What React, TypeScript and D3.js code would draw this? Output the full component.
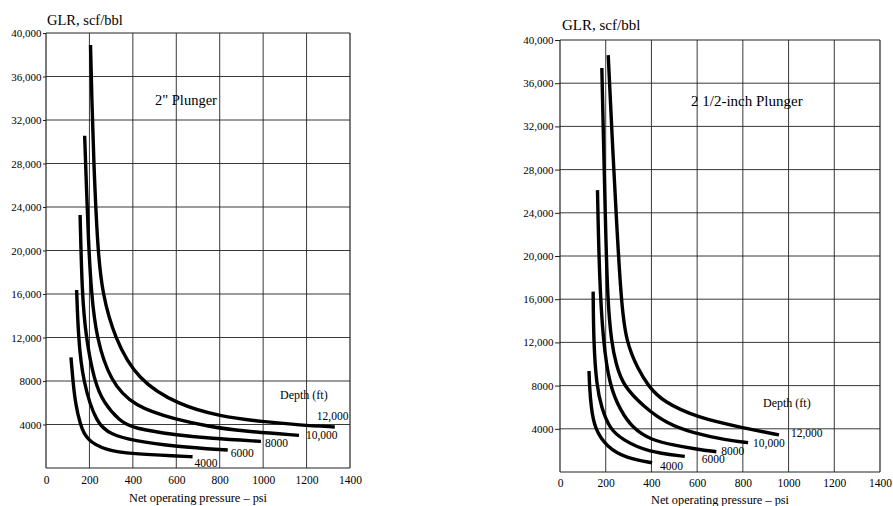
import React, { useRef, useEffect } from 'react';
import * as d3 from 'd3';

// axis ticks
const psiTicks = [0, 200, 400, 600, 800, 1000, 1200, 1400];
const glrTicks = [4000, 8000, 12000, 16000, 20000, 24000, 28000, 32000, 36000, 40000];
const depthNames = ['4000', '6000', '8000', '10,000', '12,000'];

// 2" plunger, [psi, GLR]
const two4000: [number, number][] = [[115, 10180], [124, 8000], [135, 6000], [157, 4000], [187, 2570], [272, 1650], [400, 1290], [600, 1100], [675, 1040]];
const two6000: [number, number][] = [[141, 16370], [149, 12000], [169, 8000], [233, 4000], [300, 3100], [400, 2510], [600, 1960], [837, 1650]];
const two8000: [number, number][] = [[157, 23260], [166, 16000], [184, 12000], [222, 8000], [265, 6000], [340, 4300], [400, 3650], [600, 3030], [755, 2730], [990, 2450]];
const two10000: [number, number][] = [[178, 30550], [186, 26000], [195, 21000], [209, 16000], [232, 12000], [295, 8000], [405, 5640], [600, 4450], [755, 3800], [900, 3400], [1165, 3000]];
const two12000: [number, number][] = [[205, 38900], [211, 34000], [219, 28500], [238, 20000], [260, 16000], [315, 12000], [420, 8100], [610, 5800], [800, 4750], [1000, 4250], [1170, 3950], [1330, 3770]];

// 2 1/2-inch plunger, [psi, GLR]
const half4000: [number, number][] = [[127, 9350], [129, 8000], [136, 6000], [152, 4000], [203, 2340], [290, 1270], [403, 860]];
const half6000: [number, number][] = [[145, 16700], [147, 12000], [160, 8000], [181, 6000], [217, 4000], [276, 2960], [380, 1880], [546, 1450]];
const half8000: [number, number][] = [[164, 26100], [172, 18000], [189, 12000], [217, 8000], [263, 5740], [320, 4000], [400, 2960], [494, 2500], [600, 2100], [684, 1880]];
const half10000: [number, number][] = [[183, 37400], [190, 31000], [199, 23000], [208, 16000], [225, 12000], [245, 10000], [276, 8000], [366, 6050], [466, 4500], [582, 3600], [728, 2960], [823, 2720]];
const half12000: [number, number][] = [[211, 38600], [228, 31000], [247, 23300], [267, 16000], [289, 12000], [342, 9500], [385, 8000], [450, 6500], [605, 5000], [800, 4100], [958, 3430]];

const serif = '"Liberation Serif", "Times New Roman", serif';
const glrFormat = (v: number) => (v >= 10000 ? d3.format(',')(v) : String(v));

type Panel = {
	box: { x0: number; x1: number; y0: number; y1: number };
	curves: [number, number][][];
	title: string;
	titleSize: number;
	titlePos: [number, number];
	plunger: string;
	plungerPos: [number, number];
	depthPos: [number, number];
	labelOffsets: [number, number][];
	tickLen: number;
	xPad: number;
	xTitleY: number;
};

const panels: Panel[] = [
	{
		box: { x0: 46, x1: 350, y0: 468, y1: 33 },
		curves: [two4000, two6000, two8000, two10000, two12000],
		title: 'GLR, scf/bbl',
		titleSize: 14.5,
		titlePos: [47, 25],
		plunger: '2" Plunger',
		plungerPos: [155, 105],
		depthPos: [280, 399],
		labelOffsets: [[2, 6], [3, 3], [4, 1.5], [7, 0], [-18, -11]],
		tickLen: 3,
		xPad: 8,
		xTitleY: 502,
	},
	{
		box: { x0: 560, x1: 880, y0: 472, y1: 40 },
		curves: [half4000, half6000, half8000, half10000, half12000],
		title: 'GLR, scf/bbl',
		titleSize: 15,
		titlePos: [562, 30],
		plunger: '2 1/2-inch Plunger',
		plungerPos: [691, 106],
		depthPos: [763, 407],
		labelOffsets: [[8, 3], [17, 3], [5, -1], [5, 0], [12, -2]],
		tickLen: 5,
		xPad: 7,
		xTitleY: 504,
	},
];

function drawPanel(svg: d3.Selection<SVGSVGElement, unknown, null, undefined>, p: Panel) {
	const { x0, x1, y0, y1 } = p.box;
	const x = d3.scaleLinear().domain([0, 1400]).range([x0, x1]);
	const y = d3.scaleLinear().domain([0, 40000]).range([y0, y1]);
	const g = svg.append('g');

	// grid
	g.selectAll('.vgrid')
		.data(psiTicks)
		.join('line')
		.attr('x1', (d) => x(d))
		.attr('x2', (d) => x(d))
		.attr('y1', y0)
		.attr('y2', y1)
		.attr('stroke', '#222')
		.attr('stroke-width', (d) => (d === 0 || d === 1400 ? 1.2 : 0.9));
	g.selectAll('.hgrid')
		.data([0, ...glrTicks])
		.join('line')
		.attr('x1', x0)
		.attr('x2', x1)
		.attr('y1', (d) => y(d))
		.attr('y2', (d) => y(d))
		.attr('stroke', '#222')
		.attr('stroke-width', (d) => (d === 0 || d === 40000 ? 1.2 : 0.9));

	// axes
	const yAxis = g
		.append('g')
		.attr('transform', `translate(${x0},0)`)
		.call(d3.axisLeft(y).tickValues(glrTicks).tickSize(p.tickLen).tickPadding(1.5).tickFormat((d) => glrFormat(+d)));
	yAxis.select('.domain').remove();
	yAxis.selectAll('line').attr('stroke', '#222');
	yAxis.selectAll('text').attr('font-family', serif).attr('font-size', 11).attr('fill', '#000');

	const xAxis = g
		.append('g')
		.attr('transform', `translate(0,${y0})`)
		.call(d3.axisBottom(x).tickValues(psiTicks).tickSize(0).tickPadding(p.xPad).tickFormat((d) => String(d)));
	xAxis.select('.domain').remove();
	xAxis.selectAll('text').attr('font-family', serif).attr('font-size', 11.5).attr('fill', '#000');

	// curves
	const lineGen = d3
		.line<[number, number]>()
		.x((d) => x(d[0]))
		.y((d) => y(d[1]))
		.curve(d3.curveBasis);
	g.selectAll('.curve')
		.data(p.curves)
		.join('path')
		.attr('d', (d) => lineGen(d))
		.attr('fill', 'none')
		.attr('stroke', '#000')
		.attr('stroke-width', 3.4);

	// depth labels at curve ends
	g.selectAll('.depth')
		.data(p.curves)
		.join('text')
		.attr('x', (d, i) => x(d[d.length - 1][0]) + p.labelOffsets[i][0])
		.attr('y', (d, i) => y(d[d.length - 1][1]) + p.labelOffsets[i][1])
		.attr('dy', '0.35em')
		.attr('font-family', serif)
		.attr('font-size', 11.5)
		.attr('fill', '#000')
		.text((d, i) => depthNames[i]);

	const txt = (t: string, px: number, py: number, size: number, anchor = 'start') =>
		g.append('text')
			.attr('x', px)
			.attr('y', py)
			.attr('text-anchor', anchor)
			.attr('font-family', serif)
			.attr('font-size', size)
			.attr('fill', '#000')
			.text(t);

	txt(p.title, p.titlePos[0], p.titlePos[1], p.titleSize);
	txt(p.plunger, p.plungerPos[0], p.plungerPos[1], p.titleSize);
	txt('Depth (ft)', p.depthPos[0], p.depthPos[1], 12);
	txt('Net operating pressure \u2013 psi', (x0 + x1) / 2, p.xTitleY, 12.3, 'middle');
}

export default function App() {
	const svgRef = useRef<SVGSVGElement>(null);

	useEffect(() => {
		const svg = d3.select(svgRef.current as SVGSVGElement);
		svg.selectAll('*').remove();
		panels.forEach((p) => drawPanel(svg, p));
	}, []);

	return (
		<svg
			ref={svgRef}
			width={893}
			height={506}
			style={{ position: 'absolute', left: 0, top: 0, background: '#fff' }}
		/>
	);
}
